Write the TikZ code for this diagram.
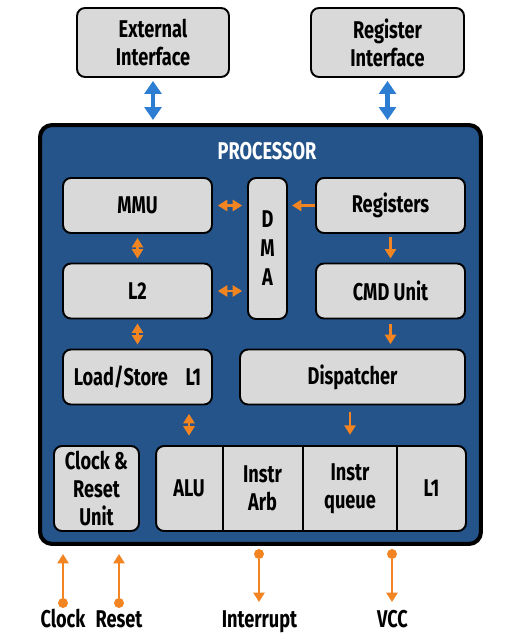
\documentclass[tikz,border=0pt]{standalone}
\usepackage{fontspec}
\setmainfont{Fira Sans}[FakeStretch=0.75]
\usetikzlibrary{arrows.meta, positioning, calc}
\definecolor{procblue}{RGB}{36,84,138}
\definecolor{boxgray}{RGB}{217,217,217}
\definecolor{sigorange}{RGB}{242,133,34}
\definecolor{busblue}{RGB}{45,125,210}

\begin{document}
\begin{tikzpicture}[x=0.02cm, y=-0.02cm,
  lbl/.style={font=\fontsize{13.8}{16}\selectfont\bfseries, align=center},
  unit/.style={lbl, draw, line width=1.1pt, fill=boxgray, rounded corners=0.16cm, inner sep=0pt},
  cell/.style={lbl, inner sep=0pt, minimum height=1.7cm},
  bus/.style={{Triangle[width=9.6pt,length=7.4pt]}-{Triangle[width=9.6pt,length=7.4pt]}, line width=2.3pt, busblue},
  oarr/.style={-{Triangle[width=6.4pt,length=5.4pt]}, line width=1.2pt, sigorange},
  odbl/.style={{Triangle[width=6.4pt,length=5.4pt]}-{Triangle[width=6.4pt,length=5.4pt]}, line width=1.2pt, sigorange},
  pin/.style={circle, fill=sigorange, inner sep=0pt, minimum size=0.2cm}]
  \useasboundingbox (0,0) rectangle (520,641);

  % Interfaces outside
  \node[unit, minimum width=3.04cm, minimum height=1.38cm] (ext) at (153,42.5) {External\\Interface};
  \node[unit, minimum width=3.06cm, minimum height=1.38cm] (regif) at (387.5,42.5) {Register\\Interface};

  % Processor
  \node[draw, line width=2.3pt, fill=procblue, rounded corners=0.24cm, minimum width=8.82cm, minimum height=8.38cm] (proc) at (260.5,334.5) {};
  \node[lbl, text=white] (ptitle) at (267,151) {PROCESSOR};

  % Blocks inside
  \node[unit, minimum width=2.98cm, minimum height=1.1cm] (mmu) at (137.5,205.5) {MMU};
  \node[unit, minimum width=2.98cm, minimum height=1.1cm] (l2) at (137.5,291) {L2};
  \node[unit, minimum width=2.98cm, minimum height=1.1cm] (ls) at (137.5,377) {Load/Store\hspace{10pt}L1};
  \node[unit, minimum width=0.78cm, minimum height=2.82cm, font=\fontsize{13.8}{16.5}\selectfont\bfseries] (dma) at (267.5,248.5) {D\\M\\A};
  \node[unit, minimum width=2.98cm, minimum height=1.1cm] (regs) at (390.5,205.5) {Registers};
  \node[unit, minimum width=2.98cm, minimum height=1.1cm] (cmd) at (390.5,291) {CMD Unit};
  \node[unit, minimum width=4.5cm, minimum height=1.1cm] (disp) at (352.5,377) {Dispatcher};
  \node[unit, minimum width=1.7cm, minimum height=1.7cm] (crst) at (96.5,488.5) {Clock \&\\Reset\\Unit};

  % Execution row
  \node[unit, minimum width=6.2cm, minimum height=1.7cm] (exec) at (311,488.5) {};
  \node[cell, minimum width=1.34cm] (alu) at (189,488.5) {ALU};
  \node[cell, minimum width=1.62cm] (arb) at (262.5,488.5) {Instr\\Arb};
  \node[cell, minimum width=1.88cm] (queue) at (350,488.5) {Instr\\queue};
  \node[cell, minimum width=1.38cm] (l1) at (431.5,488.5) {L1};
  \draw[line width=1.1pt] (alu.north east) -- (alu.south east);
  \draw[line width=1.1pt] (arb.north east) -- (arb.south east);
  \draw[line width=1.1pt] (queue.north east) -- (queue.south east);

  % Buses
  \draw[bus, shorten <=1.7pt, shorten >=1.7pt] (ext.south) -- (ext.south |- proc.north);
  \draw[bus, shorten <=1.7pt, shorten >=1.7pt] (regif.south) -- (regif.south |- proc.north);

  % Internal links
  \draw[odbl, shorten <=2.8pt, shorten >=2.8pt] (mmu.east) -- (mmu.east -| dma.west);
  \draw[odbl, shorten <=2.8pt, shorten >=2.8pt] (l2.east) -- (l2.east -| dma.west);
  \draw[oarr, shorten >=2.3pt] (regs.west) -- (regs.west -| dma.east);
  \draw[odbl, shorten <=2.3pt, shorten >=2.3pt] (mmu.south) -- (l2.north);
  \draw[odbl, shorten <=2.3pt, shorten >=2.3pt] (l2.south) -- (ls.north);
  \draw[oarr, shorten <=1.7pt, shorten >=2.3pt] (regs.south) -- (cmd.north);
  \draw[oarr, shorten <=2.3pt, shorten >=2.5pt] (cmd.south) -- (cmd.south |- disp.north);
  \draw[odbl, shorten <=4.8pt, shorten >=5.7pt] (alu.north |- ls.south) -- (alu.north);
  \draw[oarr, shorten <=3.7pt, shorten >=6.2pt] (queue.north |- disp.south) -- (queue.north);

  % Signals
  \node[pin] (clkpin) at (63,603) {};
  \node[pin] (rstpin) at (119,603) {};
  \node[pin] (irqpin) at (259,554) {};
  \node[pin] (vccpin) at (392,554) {};
  \coordinate (clkin) at (63,554);
  \coordinate (rstin) at (119,554);
  \coordinate (irqout) at (259,602);
  \coordinate (vccout) at (392,602);
  \draw[oarr] (clkpin) -- (clkin);
  \draw[oarr] (rstpin) -- (rstin);
  \draw[oarr] (irqpin) -- (irqout);
  \draw[oarr] (vccpin) -- (vccout);
  \node[lbl, anchor=base] (clk) at (63,627) {Clock};
  \node[lbl, anchor=base] (rst) at (119,627) {Reset};
  \node[lbl, anchor=base] (irq) at (259.5,627) {Interrupt};
  \node[lbl, anchor=base] (vcc) at (392.5,627) {VCC};
\end{tikzpicture}
\end{document}
